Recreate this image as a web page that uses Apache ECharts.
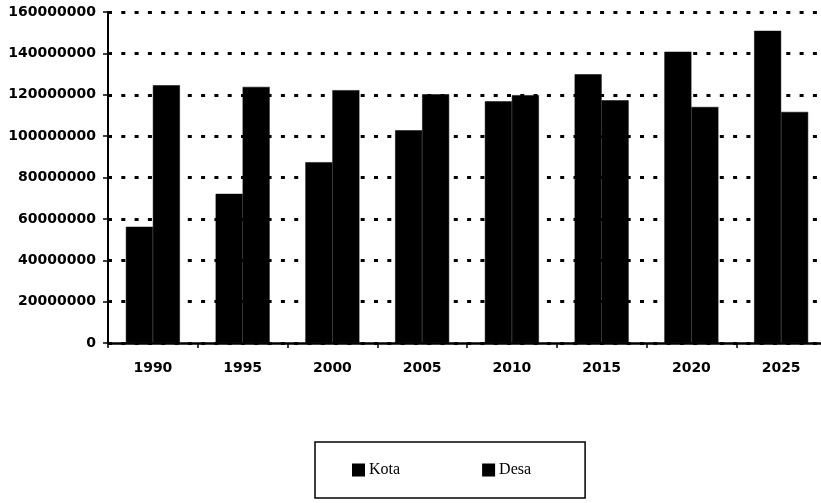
<!DOCTYPE html>
<html>
<head>
<meta charset="utf-8">
<script src="https://cdn.jsdelivr.net/npm/echarts@6/dist/echarts.min.js"></script>
<style>
html,body{margin:0;padding:0;background:#fff;overflow:hidden;}
#chart{width:826px;height:503px;}
</style>
</head>
<body>
<div id="chart"></div>
<script>
const categories = ['1990','1995','2000','2005','2010','2015','2020','2025'];
const kota = [56200000, 72100000, 87400000, 102800000, 116800000, 129900000, 140800000, 150900000];
const desa = [124600000, 123800000, 122200000, 120200000, 119800000, 117300000, 114100000, 111700000];
const seriesNames = ['Kota', 'Desa'];
const yMin = 0, yMax = 160000000, yStep = 20000000;

const chart = echarts.init(document.getElementById('chart'), null, {renderer: 'canvas'});
chart.setOption({
  animation: false,
  backgroundColor: '#fff',
  grid: {left: 108, right: 0, top: 12, bottom: 160, containLabel: false, outerBoundsMode: 'none'},
  legend: {
    data: seriesNames,
    left: 315, top: 442,
    orient: 'horizontal',
    icon: 'rect',
    itemWidth: 11, itemHeight: 11,
    itemGap: 82,
    padding: [20, 54, 20, 37],
    borderColor: '#000', borderWidth: 1.5,
    textStyle: {fontFamily: 'Liberation Serif', fontSize: 16, color: '#000'}
  },
  xAxis: {
    type: 'category',
    data: categories,
    axisLine: {lineStyle: {color: '#000', width: 2.5}},
    axisTick: {show: true, length: 5, lineStyle: {color: '#000', width: 1.5}},
    axisLabel: {margin: 18, color: '#000', fontFamily: 'DejaVu Sans', fontWeight: 'bold', fontSize: 14}
  },
  yAxis: {
    type: 'value',
    min: yMin, max: yMax, interval: yStep,
    axisLine: {show: true, lineStyle: {color: '#000', width: 2}},
    axisTick: {show: true, length: 5, lineStyle: {color: '#000', width: 1.5}},
    axisLabel: {margin: 12, color: '#000', fontFamily: 'DejaVu Sans', fontWeight: 'bold', fontSize: 14,
      formatter: function (v) { return String(v); }},
    splitLine: {show: true, lineStyle: {color: '#000', width: 3, type: [4, 9.3]}}
  },
  series: [
    {name: seriesNames[0], type: 'bar', data: kota, barWidth: 27, barGap: '0%',
      itemStyle: {color: '#000', borderColor: '#000', borderWidth: 0.5}},
    {name: seriesNames[1], type: 'bar', data: desa, barWidth: 27, barGap: '0%',
      itemStyle: {color: '#000', borderColor: '#000', borderWidth: 0.5}}
  ]
});
</script>
</body>
</html>
